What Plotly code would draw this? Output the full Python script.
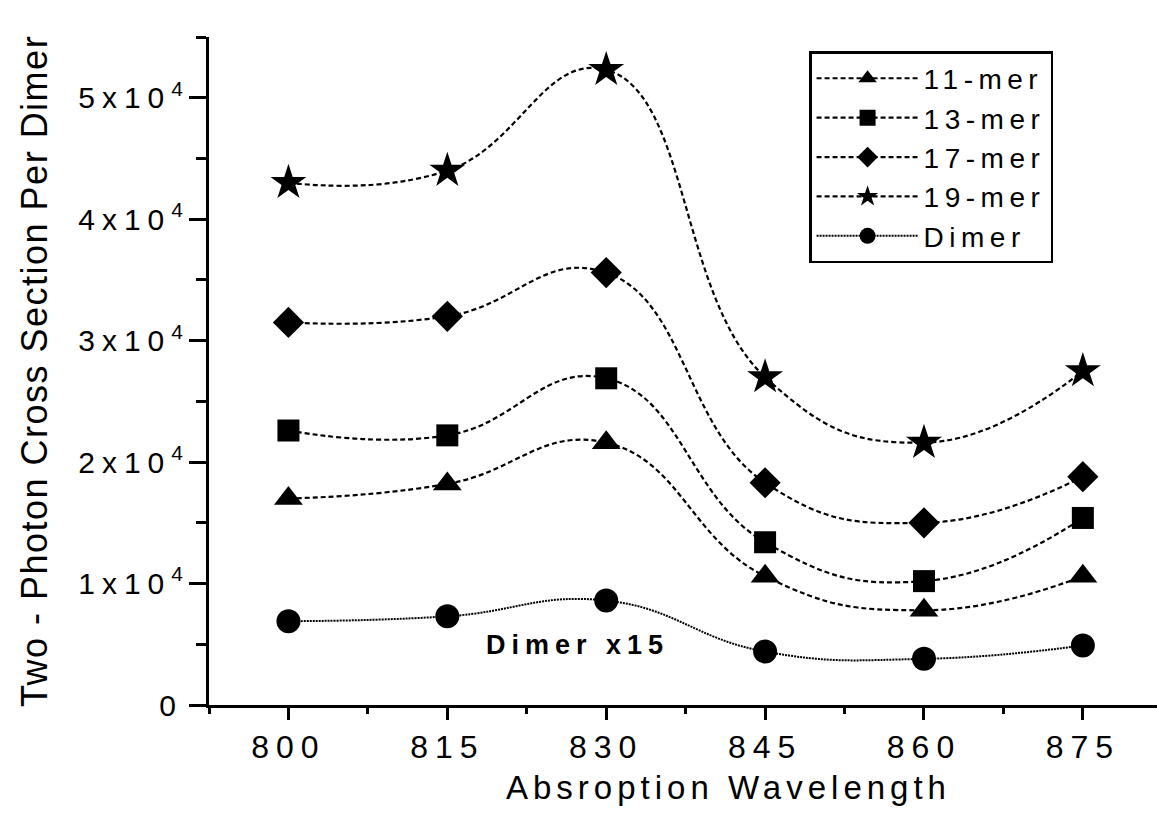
import plotly.graph_objects as go

wavelength = [800, 815, 830, 845, 860, 875]
mer11 = [17000, 18200, 21600, 10600, 7800, 10600]
mer13 = [22600, 22200, 26900, 13400, 10200, 15400]
mer17 = [31500, 32000, 35600, 18300, 15000, 18800]
mer19 = [43000, 44000, 52300, 27000, 21600, 27500]
dimer = [6900, 7300, 8600, 4400, 3800, 4900]

series_names = ["11-mer", "13-mer", "17-mer", "19-mer", "Dimer"]
series_values = [mer11, mer13, mer17, mer19, dimer]
symbols = ["triangle-up", "square", "diamond", "star", "circle"]
sizes = [25, 22, 24, 27, 24]
dashes = ["5px,3px", "5px,3px", "5px,3px", "5px,3px", "2px,1px"]
widths = [2.2, 2.2, 2.2, 2.2, 2]

y_tickvals = [0, 10000, 20000, 30000, 40000, 50000]
y_mantissa = ["0", "1x10", "2x10", "3x10", "4x10", "5x10"]
y_exponent = ["", "4", "4", "4", "4", "4"]
x_tickvals = [800, 815, 830, 845, 860, 875]
x_ticktext = ["800", "815", "830", "845", "860", "875"]

FONT = "Liberation Sans, Arial, sans-serif"


def spaced(t, px):
    return '<span style="letter-spacing:%spx">%s</span>' % (px, t)


y_ticktext = [spaced(m, 7) + ("<sup>%s</sup>" % e if e else "")
              for m, e in zip(y_mantissa, y_exponent)]

fig = go.Figure()
for name, vals, sym, sz, dash, w in zip(series_names, series_values, symbols, sizes, dashes, widths):
    fig.add_trace(go.Scatter(
        x=wavelength, y=vals, name=spaced(name, 5.5),
        mode="lines+markers",
        line=dict(color="black", width=w, dash=dash, shape="spline", smoothing=1.3),
        marker=dict(symbol=sym, size=sz, color="black", line=dict(width=0)),
    ))

fig.add_annotation(
    x=827.3, y=4940, xref="x", yref="y",
    text=spaced("<b>Dimer x15</b>", 6), showarrow=False,
    font=dict(family=FONT, size=27, color="black"),
)

# x-axis title (placed as in the reference, slightly right of the plot centre)
fig.add_annotation(
    x=0.5485, y=-0.124, xref="paper", yref="paper",
    xanchor="center", yanchor="middle",
    text=spaced("Absroption Wavelength", 5), showarrow=False,
    font=dict(family=FONT, size=33, color="black"),
)

fig.update_layout(
    width=1157, height=814,
    margin=dict(l=209, r=0, t=37, b=109),
    paper_bgcolor="white", plot_bgcolor="white",
    font=dict(family=FONT, color="black"),
    showlegend=True,
    legend=dict(
        x=0.633, y=0.979, xanchor="left", yanchor="top",
        bordercolor="black", borderwidth=2.5, bgcolor="white",
        font=dict(family=FONT, size=28, color="black"),
        itemwidth=102, tracegroupgap=0,
    ),
    xaxis=dict(
        range=[792.5, 882.0],
        showgrid=False, zeroline=False,
        showline=True, linecolor="black", linewidth=3,
        ticks="outside", ticklen=12, tickwidth=3, tickcolor="black",
        tickvals=x_tickvals, ticktext=[spaced(t, 7) for t in x_ticktext],
        tickfont=dict(family=FONT, size=32, color="black"),
        minor=dict(ticks="outside", ticklen=6, tickwidth=3, tickcolor="black",
                   tick0=792.5, dtick=7.5),
    ),
    yaxis=dict(
        range=[0, 55000],
        showgrid=False, zeroline=False,
        showline=True, linecolor="black", linewidth=3,
        ticks="outside", ticklen=17, tickwidth=3, tickcolor="black",
        tickvals=y_tickvals, ticktext=y_ticktext,
        tickfont=dict(family=FONT, size=30, color="black"),
        minor=dict(ticks="outside", ticklen=10, tickwidth=3, tickcolor="black",
                   tick0=0, dtick=5000),
        title=dict(text=spaced("Two - Photon Cross Section Per Dimer", 1.5),
                   font=dict(family=FONT, size=36, color="black"), standoff=20),
    ),
)

fig.write_html("out.html")
